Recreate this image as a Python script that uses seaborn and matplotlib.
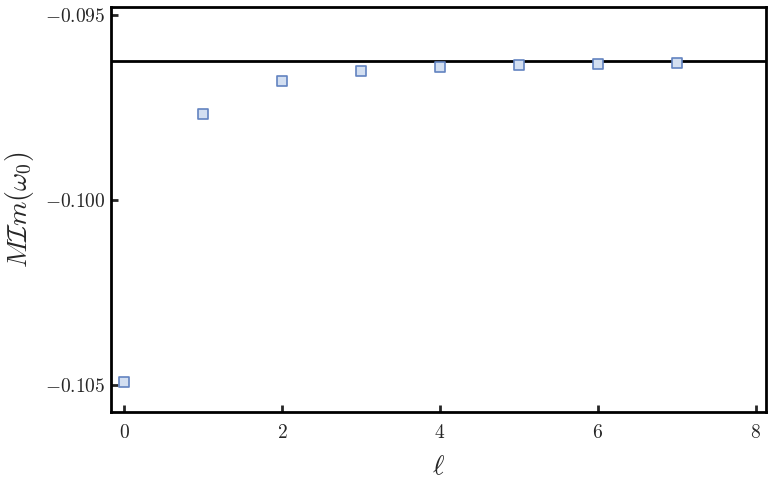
import matplotlib
matplotlib.use('Agg')
import matplotlib.pyplot as plt
import seaborn as sns
import pandas as pd
from matplotlib.ticker import FuncFormatter

# data
ell = [0, 1, 2, 3, 4, 5, 6, 7]
im_omega = [-0.104927, -0.097657, -0.096765, -0.096505,
            -0.096397, -0.096351, -0.096305, -0.096289]
asymptote = -0.096235

xticks = [0, 2, 4, 6, 8]
yticks = [-0.105, -0.100, -0.095]

df = pd.DataFrame({'ell': ell, 'im': im_omega})

sns.set_style('ticks')
plt.rcParams['mathtext.fontset'] = 'cm'
plt.rcParams['font.family'] = ['DejaVu Serif']

fig = plt.figure(figsize=(7.68, 4.94), dpi=100)
ax = fig.add_axes([0.1445, 0.166, 0.8529, 0.8198])

ax.axhline(asymptote, color='black', lw=2, zorder=1)
sns.scatterplot(data=df, x='ell', y='im', marker='s', s=55,
                color='#d3dff1', edgecolor='#6283c0', linewidth=1.2,
                ax=ax, zorder=3)

ax.set_xlim(-0.165, 8.13)
ax.set_ylim(-0.10573, -0.094776)
ax.set_xticks(xticks)
ax.set_yticks(yticks)
ax.xaxis.set_major_formatter(FuncFormatter(lambda v, p: f'${v:.0f}$'))
ax.yaxis.set_major_formatter(FuncFormatter(lambda v, p: f'${v:.3f}$'))
ax.tick_params(direction='in', length=5, width=2, labelsize=14,
               top=False, right=False)
ax.tick_params(axis='y', pad=4)
ax.tick_params(axis='x', pad=9)
for sp in ax.spines.values():
    sp.set_linewidth(2)
    sp.set_color('black')

ax.set_xlabel(r'$\ell$', fontsize=20, labelpad=8)
ax.set_ylabel(r'$M\mathcal{I}m(\omega_0)$', fontsize=20, labelpad=6)

fig.savefig('out.png', dpi=100)
